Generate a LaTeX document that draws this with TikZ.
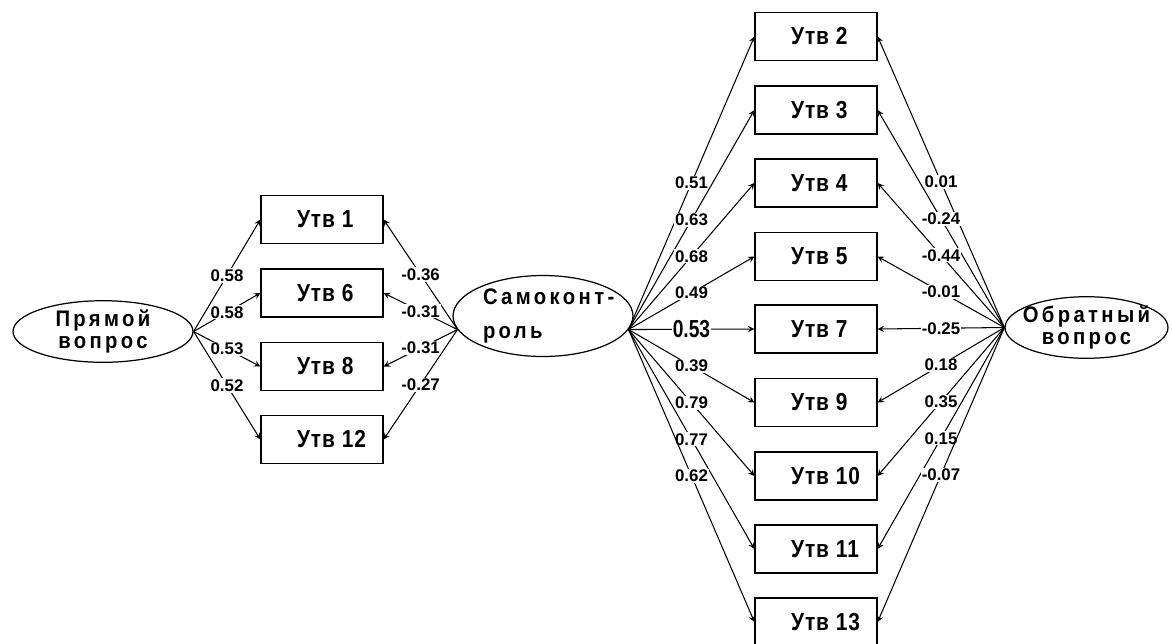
\documentclass[tikz,border=0pt]{standalone}
\usepackage{fontspec}
\setmainfont{Liberation Sans}
\newfontfamily\utvfont[LetterSpace=4,FakeStretch=0.85]{Liberation Sans}
\newfontfamily\latfont[LetterSpace=15,FakeStretch=0.9]{Liberation Sans}
\newfontfamily\bignumfont[FakeStretch=0.78]{Liberation Sans}
\usetikzlibrary{shapes.geometric}
\newcommand{\utv}[1]{\makebox[1cm][l]{Утв #1}}

\begin{document}
\begin{tikzpicture}[x=0.02cm,y=-0.02cm,
  box/.style={draw,line width=0.7pt,minimum width=2.44cm,minimum height=0.96cm,inner sep=0pt,
    font=\utvfont\bfseries\fontsize{14}{14}\selectfont},
  latent/.style={draw,ellipse,line width=0.7pt,inner sep=0pt,align=center,
    font=\latfont\bfseries\fontsize{12.8}{12.6}\selectfont},
  conn/.style={line width=0.6pt,-stealth},
  coef/.style={fill=white,inner sep=0.6pt,font=\bfseries\fontsize{9.6}{10}\selectfont}]
 % \draw[thin,gray!40] (0,0) grid[step=50] (1172,643);
  \useasboundingbox (0,0) rectangle (1172,643);
  \node[latent,minimum width=3.6cm,minimum height=1.06cm] (pr) at (103,331.5) {Прямой\\вопрос};
  \node[latent,minimum width=3.6cm,minimum height=1.62cm,align=left,
    font=\latfont\bfseries\fontsize{12.8}{19}\selectfont] (samo) at (543,316) {\makebox[2.4cm][l]{Самоконт-}\\роль};
  \node[latent,minimum width=3.26cm,minimum height=1.1cm] (obr) at (1086.5,327.5) {\makebox[2.2cm]{Обратный}\\вопрос};

  \node[box] (u1) at (322,219.5) {\utv{1}};
  \node[box] (u6) at (322,293) {\utv{6}};
  \node[box] (u8) at (322,366.5) {\utv{8}};
  \node[box] (u12) at (322,439.5) {\utv{12}};

  \node[box] (u2) at (816,36.5) {\utv{2}};
  \node[box] (u3) at (816,110) {\utv{3}};
  \node[box] (u4) at (816,183) {\utv{4}};
  \node[box] (u5) at (816,256.5) {\utv{5}};
  \node[box] (u7) at (816,329) {\utv{7}};
  \node[box] (u9) at (816,402.5) {\utv{9}};
  \node[box] (u10) at (816,476) {\utv{10}};
  \node[box] (u11) at (816,549) {\utv{11}};
  \node[box] (u13) at (816,622) {\utv{13}};

  % прямой вопрос
  \draw[conn] (pr.east) -- node[coef]{0.58} (u1.west);
  \draw[conn] (pr.east) -- node[coef]{0.58} (u6.west);
  \draw[conn] (pr.east) -- node[coef]{0.53} (u8.west);
  \draw[conn] (pr.east) -- node[coef]{0.52} (u12.west);

  % самоконтроль
  \draw[conn] (samo.189.5) -- node[coef]{-0.36} (u1.east);
  \draw[conn] (samo.189.5) -- node[coef]{-0.31} (u6.east);
  \draw[conn] (samo.189.5) -- node[coef]{-0.31} (u8.east);
  \draw[conn] (samo.189.5) -- node[coef]{-0.27} (u12.east);

  \draw[conn] (samo.-9.5) -- node[coef]{0.51} (u2.west);
  \draw[conn] (samo.-9.5) -- node[coef]{0.63} (u3.west);
  \draw[conn] (samo.-9.5) -- node[coef]{0.68} (u4.west);
  \draw[conn] (samo.-9.5) -- node[coef]{0.49} (u5.west);
  \draw[conn] (samo.-9.5) -- node[coef,font=\bignumfont\bfseries\fontsize{14}{14}\selectfont]{0.53} (u7.west);
  \draw[conn] (samo.-9.5) -- node[coef]{0.39} (u9.west);
  \draw[conn] (samo.-9.5) -- node[coef]{0.79} (u10.west);
  \draw[conn] (samo.-9.5) -- node[coef]{0.77} (u11.west);
  \draw[conn] (samo.-9.5) -- node[coef]{0.62} (u13.west);

  % обратный вопрос
  \draw[conn] (obr.west) -- node[coef]{0.01} (u2.east);
  \draw[conn] (obr.west) -- node[coef]{-0.24} (u3.east);
  \draw[conn] (obr.west) -- node[coef]{-0.44} (u4.east);
  \draw[conn] (obr.west) -- node[coef]{-0.01} (u5.east);
  \draw[conn] (obr.west) -- node[coef]{-0.25} (u7.east);
  \draw[conn] (obr.west) -- node[coef]{0.18} (u9.east);
  \draw[conn] (obr.west) -- node[coef]{0.35} (u10.east);
  \draw[conn] (obr.west) -- node[coef]{0.15} (u11.east);
  \draw[conn] (obr.west) -- node[coef]{-0.07} (u13.east);
\end{tikzpicture}
\end{document}
